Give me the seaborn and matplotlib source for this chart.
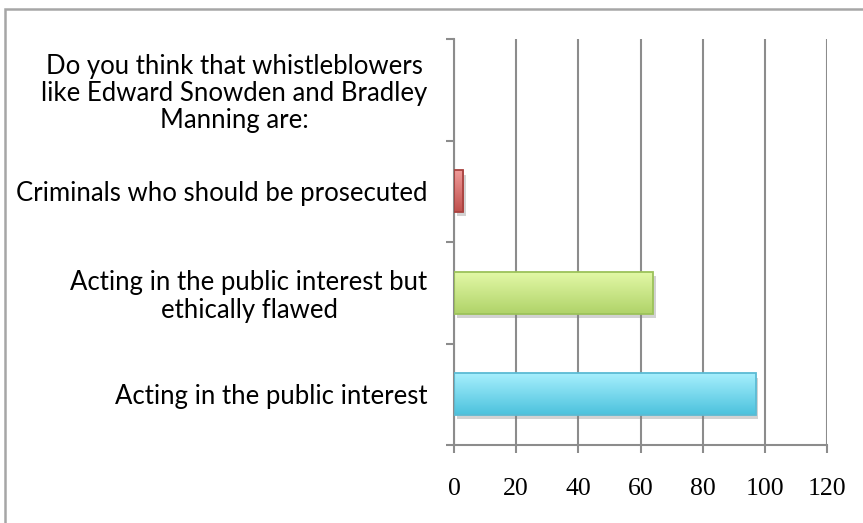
import numpy as np
import pandas as pd
import matplotlib
matplotlib.use("Agg")
import matplotlib.pyplot as plt
import matplotlib.patheffects as pe
from matplotlib.patches import Rectangle
from matplotlib.colors import LinearSegmentedColormap
import seaborn as sns

categories = [
    "Do you think that whistleblowers\nlike Edward Snowden and Bradley\nManning are:",
    "Criminals who should be prosecuted",
    "Acting in the public interest but\nethically flawed",
    "Acting in the public interest",
]
values = [0, 3, 64, 97]
x_ticks = [0, 20, 40, 60, 80, 100, 120]

bar_top = ["#ffffff", "#f09a98", "#e2f8a6", "#a6effd"]
bar_bottom = ["#ffffff", "#c0504d", "#b0d369", "#4cc2dd"]
bar_edge = ["#ffffff", "#a8423f", "#9cc25a", "#5bbbd4"]

sns.set_theme(style="white")
plt.rcParams["font.family"] = ["Lato", "DejaVu Sans"]

df = pd.DataFrame({"category": categories, "value": values})

fig = plt.figure(figsize=(8.63, 5.23), dpi=100)
ax = fig.add_axes([454 / 863, 78 / 523, 373 / 863, 406 / 523])

sns.barplot(data=df, y="category", x="value", hue="category",
            palette=bar_bottom, width=0.41, legend=False, ax=ax,
            saturation=1, linewidth=0)

ylim = (len(categories) - 0.5, -0.5)

for i, p in enumerate(ax.patches):
    x0, y0 = p.get_x(), p.get_y()
    w, h = p.get_width(), p.get_height()
    if w <= 0:
        p.set_visible(False)
        continue
    p.set_zorder(2)
    p.set_path_effects([pe.SimplePatchShadow(offset=(2, -3), shadow_rgbFace="#7f7f7f", alpha=0.35),
                        pe.Normal()])
    cmap = LinearSegmentedColormap.from_list("g", [bar_top[i], bar_bottom[i]])
    grad = np.linspace(0, 1, 64).reshape(-1, 1)
    im = ax.imshow(grad, cmap=cmap, aspect="auto", origin="upper",
                   extent=(x0, x0 + w, y0 + h, y0), zorder=2.5, interpolation="bilinear")
    im.set_clip_path(p)
    ax.add_patch(Rectangle((x0, y0), w, h, fill=False, edgecolor=bar_edge[i],
                           linewidth=1.3, zorder=3))

ax.set_xlim(0, 120)
ax.set_ylim(*ylim)
ax.set_xticks(x_ticks)
ax.set_xticklabels([str(t) for t in x_ticks], family="Liberation Serif", fontsize=18.5)
ax.set_yticks(np.arange(len(categories) + 1) - 0.5, minor=True)
ax.set_yticks(range(len(categories)))
ax.set_yticklabels(categories, fontsize=18.5)
for lab in ax.get_yticklabels():
    lab.set_multialignment("center")
    lab.set_linespacing(1.12)
ax.tick_params(axis="y", which="major", length=0, pad=19, colors="#000000")
ax.tick_params(axis="y", which="minor", length=6, width=1.5, color="#8c8c8c", left=True)
ax.tick_params(axis="x", length=6, width=1.5, color="#8c8c8c", pad=18, bottom=True,
               direction="out", labelcolor="#000000")
ax.set_xlabel("")
ax.set_ylabel("")
ax.grid(axis="x", color="#8c8c8c", linewidth=1.5, zorder=0)
ax.set_axisbelow(True)
for side in ["top", "right"]:
    ax.spines[side].set_visible(False)
for side in ["left", "bottom"]:
    ax.spines[side].set_color("#8c8c8c")
    ax.spines[side].set_linewidth(1.5)

fig.patches.append(Rectangle((5 / 863, -0.1), 1.2, 1.1 - 9 / 523, transform=fig.transFigure,
                             fill=False, edgecolor="#a6a6a6", linewidth=1.8, zorder=-1))

fig.savefig("out.png", dpi=100)
